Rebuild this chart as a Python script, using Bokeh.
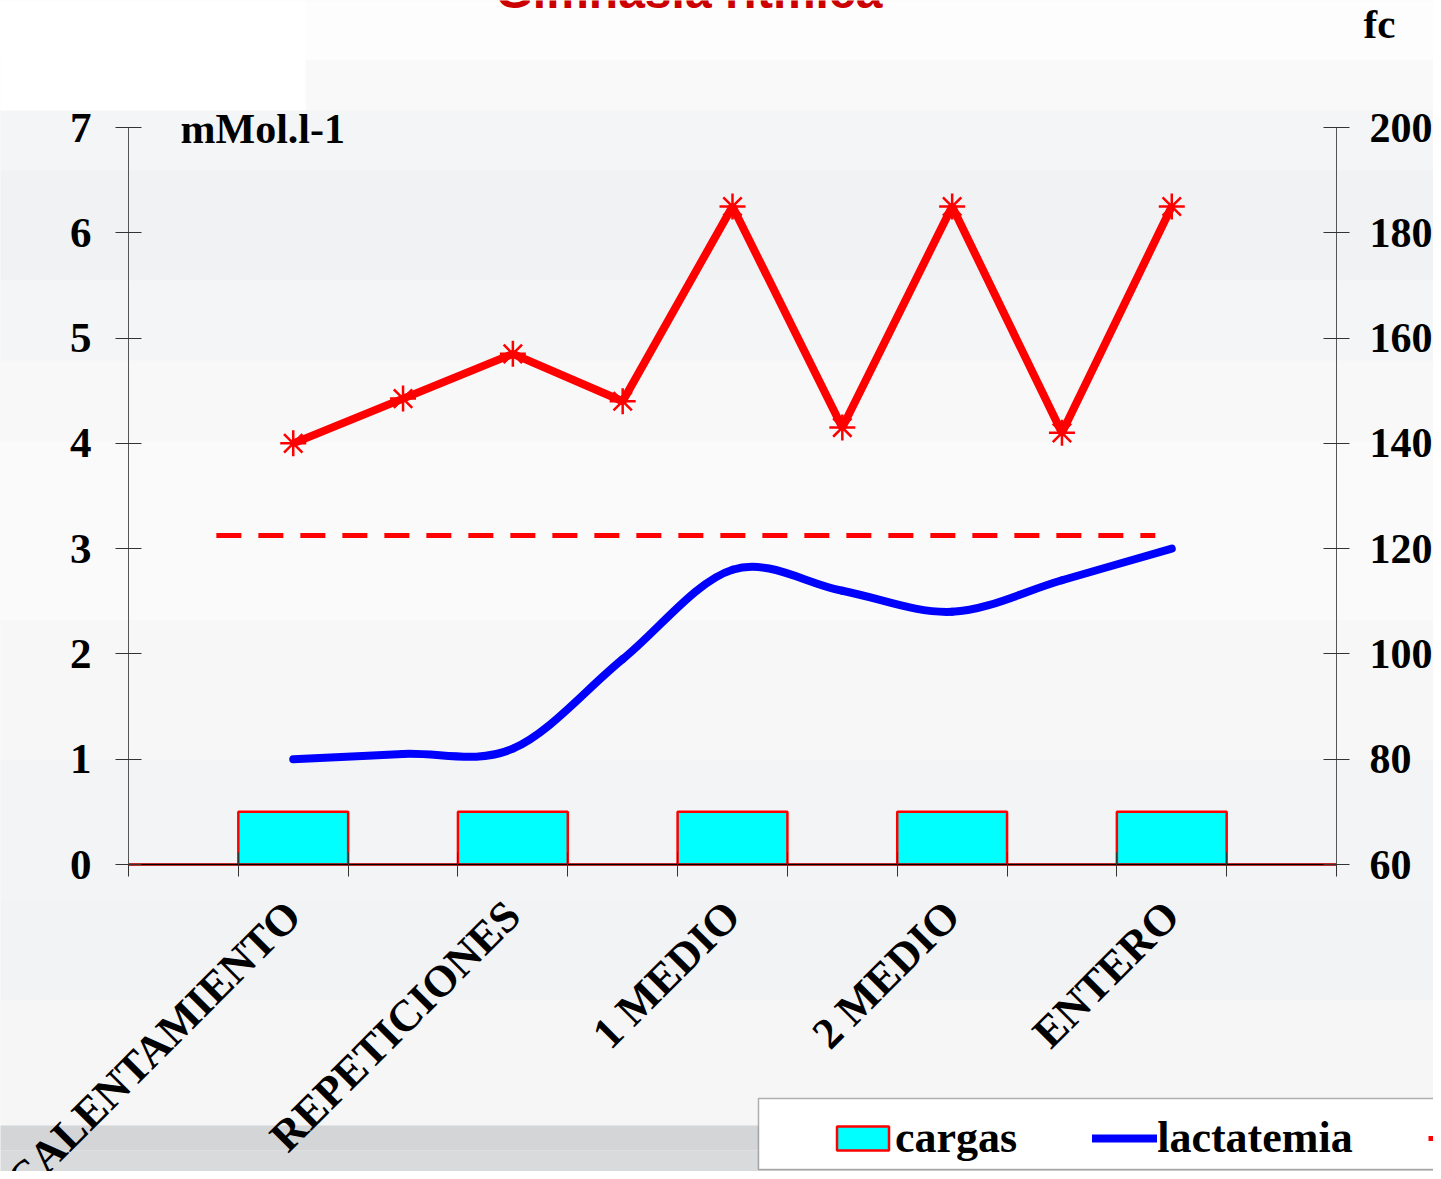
import math
from bokeh.plotting import figure
from bokeh.models import (Range1d, LinearAxis, FixedTicker, Legend, LegendItem,
                          Label, BoxAnnotation, ColumnDataSource)
from bokeh.embed import file_html
from bokeh.resources import INLINE

# ---------------- data ----------------
slots = ["", "CALENTAMIENTO", "", "REPETICIONES", "", "1 MEDIO", "", "2 MEDIO", "", "ENTERO", ""]
cargas = [0, 0.5, 0, 0.5, 0, 0.5, 0, 0.5, 0, 0.5, 0]
lactatemia = [1.0, 1.05, 1.1, 1.95, 2.8, 2.6, 2.4, 2.7, 3.0]
fc = [140, 148.5, 157, 148, 185, 143, 185, 142, 185]
umbral_x = [0.8, 9.35]
umbral_fc = [122.5, 122.5]
left_ticks = [0, 1, 2, 3, 4, 5, 6, 7]
right_ticks = [60, 80, 100, 120, 140, 160, 180, 200]
title_text = "Gimnasia rítmica"
left_unit = "mMol.l-1"
right_unit = "fc"
legend_labels = ["cargas", "lactatemia", "umbral", "fc"]

# ---------------- layout ----------------
W, H = 1433, 1171
SERIF = "Liberation Serif"
AX_L, AX_R, AX_T, AX_B = 128, 1336, 127, 864
nx = len(slots)
ppx = (AX_R - AX_L) / nx
ppy = (AX_B - AX_T) / (left_ticks[-1] - left_ticks[0])
ppf = (AX_B - AX_T) / (right_ticks[-1] - right_ticks[0])

x_range = Range1d(0 - AX_L / ppx, nx + (W - AX_R) / ppx)
y_range = Range1d(left_ticks[0] - (H - AX_B) / ppy, left_ticks[-1] + AX_T / ppy)
fc_range = Range1d(right_ticks[0] - (H - AX_B) / ppf, right_ticks[-1] + AX_T / ppf)

p = figure(width=W, height=H, x_range=x_range, y_range=y_range,
           output_backend="svg", toolbar_location=None,
           x_axis_type=None, y_axis_type=None, min_border=0)
p.extra_y_ranges = {"fc": fc_range}
p.xgrid.visible = False
p.ygrid.visible = False
p.outline_line_color = None
p.border_fill_color = "#f5f5f6"
p.background_fill_color = "#f5f5f6"

def box(l, r, t, b, **kw):
    return BoxAnnotation(left=l, right=r, top=H - t, bottom=H - b,
                         left_units="screen", right_units="screen",
                         top_units="screen", bottom_units="screen", **kw)

# background shading bands (pixel rows)
bands = [(0, 60, "#fdfdfd"), (60, 110, "#f9f9fa"), (110, 170, "#f4f5f6"), (170, 280, "#f1f2f4"),
         (280, 360, "#f4f5f6"), (360, 440, "#f8f8f9"), (440, 620, "#fafafa"), (620, 760, "#f7f7f8"),
         (760, 900, "#f3f4f5"), (900, 1000, "#f2f3f5"), (1000, 1125, "#f6f6f7"),
         (1125, 1150, "#d4d5d7"), (1150, 1190, "#d9dadc")]
for y0, y1, col in bands:
    p.add_layout(box(-10, 1450, y0, y1, fill_color=col, fill_alpha=1, line_color=None, level="underlay"))
p.add_layout(box(-10, 305, -10, 110, fill_color="#ffffff", fill_alpha=1, line_color=None, level="underlay"))

# ---------------- axes ----------------
def style_axis(ax, standoff, size):
    ax.axis_line_color = "#555555"
    ax.axis_line_width = 1
    ax.major_tick_line_color = "#333333"
    ax.major_tick_in = 13
    ax.major_tick_out = 13
    ax.minor_tick_line_color = None
    ax.major_label_text_font = SERIF
    ax.major_label_text_font_style = "bold"
    ax.major_label_text_font_size = size
    ax.major_label_text_color = "black"
    ax.major_label_standoff = standoff

yl = LinearAxis(ticker=FixedTicker(ticks=left_ticks), fixed_location=0,
                bounds=(left_ticks[0], left_ticks[-1]))
style_axis(yl, 24, "43px")
p.add_layout(yl, "left")

yr = LinearAxis(y_range_name="fc", ticker=FixedTicker(ticks=right_ticks), fixed_location=nx,
                bounds=(right_ticks[0], right_ticks[-1]))
style_axis(yr, 20, "42px")
p.add_layout(yr, "right")

xb = LinearAxis(ticker=FixedTicker(ticks=[], minor_ticks=list(range(nx + 1))),
                fixed_location=0, bounds=(0, nx))
xb.axis_line_color = "black"
xb.axis_line_width = 1.5
xb.major_tick_line_color = None
xb.minor_tick_line_color = "#333333"
xb.minor_tick_in = 12
xb.minor_tick_out = 12
xb.major_label_text_font_size = "0px"
p.add_layout(xb, "below")

# ---------------- glyphs ----------------
centers = [i + 0.5 for i in range(nx)]
bars = p.vbar(x=centers, top=cargas, bottom=0, width=1.0,
              fill_color="#00ffff", line_color="#ff0000", line_width=2.5)

pts_x = [centers[i] for i in range(1, 1 + len(lactatemia))]

# smoothed lactatemia curve (Catmull-Rom -> cubic Bezier from the data points)
n = len(lactatemia)
bz = dict(x0=[], y0=[], x1=[], y1=[], cx0=[], cy0=[], cx1=[], cy1=[])
for i in range(n - 1):
    a = max(i - 1, 0)
    d = min(i + 2, n - 1)
    x0, y0 = pts_x[i], lactatemia[i]
    x1, y1 = pts_x[i + 1], lactatemia[i + 1]
    bz["x0"].append(x0); bz["y0"].append(y0)
    bz["x1"].append(x1); bz["y1"].append(y1)
    bz["cx0"].append(x0 + (x1 - pts_x[a]) / 6.0)
    bz["cy0"].append(y0 + (y1 - lactatemia[a]) / 6.0)
    bz["cx1"].append(x1 - (pts_x[d] - x0) / 6.0)
    bz["cy1"].append(y1 - (lactatemia[d] - y0) / 6.0)
lac = p.bezier(source=ColumnDataSource(bz), x0="x0", y0="y0", x1="x1", y1="y1",
               cx0="cx0", cy0="cy0", cx1="cx1", cy1="cy1",
               line_color="#0000ff", line_width=8, line_cap="round")

umb = p.line(x=umbral_x, y=umbral_fc, y_range_name="fc", line_color="#ff0000",
             line_width=5, line_dash="25 17")

fcl = p.line(x=pts_x, y=fc, y_range_name="fc", line_color="#ff0000", line_width=8)
p.scatter(x=pts_x, y=fc, y_range_name="fc", marker="asterisk", size=26,
          line_color="#ff0000", line_width=2.5)

# ---------------- texts ----------------
for cx, lab in zip(centers, slots):
    if lab:
        p.add_layout(Label(x=cx, y=H - 908, x_units="data", y_units="screen", text=lab,
                           angle=math.pi / 4, text_align="right", text_baseline="middle",
                           text_font=SERIF, text_font_style="bold", text_font_size="44px",
                           text_color="black"))

def screen_label(x, y, text, **kw):
    # y is the wanted baseline row; rendered baseline sits ~15px below the anchor
    return Label(x=x, y=H - (y - 15), x_units="screen", y_units="screen", text=text,
                 text_baseline="alphabetic", **kw)

p.add_layout(screen_label(180, 143, left_unit, text_font=SERIF, text_font_style="bold",
                          text_font_size="42px", text_color="black"))
p.add_layout(screen_label(1363, 38, right_unit, text_font=SERIF, text_font_style="bold",
                          text_font_size="41px", text_color="black"))
p.add_layout(screen_label(495, 6, title_text, text_font="Liberation Sans", text_font_style="bold",
                          text_font_size="48px", text_color="#cc0000"))

# ---------------- legend ----------------
p.add_layout(box(758, 1460, 1098, 1169, fill_color="white", fill_alpha=1,
                 line_color="black", line_width=1.5))
legend = Legend(items=[LegendItem(label=legend_labels[0], renderers=[bars]),
                       LegendItem(label=legend_labels[1], renderers=[lac]),
                       LegendItem(label=legend_labels[2], renderers=[umb]),
                       LegendItem(label=legend_labels[3], renderers=[fcl])],
                orientation="horizontal", location=(830, H - 1163),
                padding=0, margin=0, spacing=75, label_standoff=0,
                glyph_width=65, glyph_height=30,
                label_text_font=SERIF, label_text_font_style="bold", label_text_font_size="44px",
                label_text_color="black",
                border_line_color=None, background_fill_alpha=0)
p.add_layout(legend, "center")

open("out.html", "w").write(file_html(p, INLINE))
